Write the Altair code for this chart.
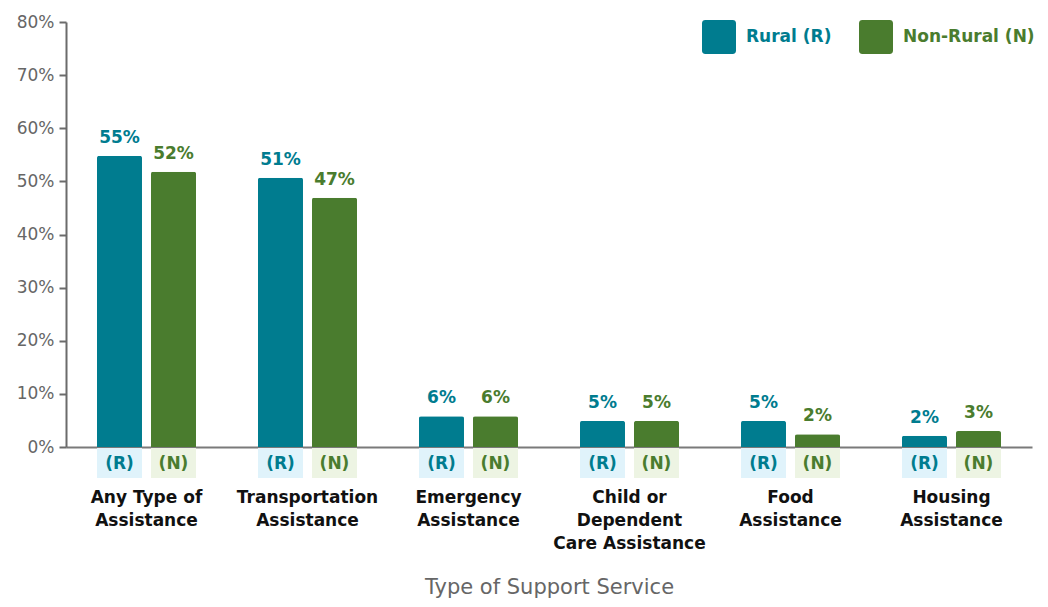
import altair as alt
import pandas as pd

categories = [
    "Any Type of|Assistance",
    "Transportation|Assistance",
    "Emergency|Assistance",
    "Child or|Dependent|Care Assistance",
    "Food|Assistance",
    "Housing|Assistance",
]
groups = ["Rural (R)", "Non-Rural (N)"]
short_tags = ["(R)", "(N)"]
rural = [54.8, 50.7, 5.8, 4.9, 4.9, 2.1]
non_rural = [51.8, 46.9, 5.8, 4.9, 2.4, 3.0]
y_ticks = [0, 10, 20, 30, 40, 50, 60, 70, 80]

TEAL = "#007C8F"
GREEN = "#4A7C2E"
TEAL_LIGHT = "#E0F3FB"
GREEN_LIGHT = "#EDF4E3"
FONT = "DejaVu Sans"

rows = []
for i, c in enumerate(categories):
    rows.append({"category": c, "group": groups[0], "tag": short_tags[0], "value": rural[i]})
    rows.append({"category": c, "group": groups[1], "tag": short_tags[1], "value": non_rural[i]})
df = pd.DataFrame(rows)

W, H = 966, 425

is_rural = alt.datum.group == groups[0]

x_enc = alt.X(
    "category:N",
    sort=categories,
    scale=alt.Scale(paddingInner=0.385, paddingOuter=0.1925),
    axis=alt.Axis(
        title="Type of Support Service",
        labelExpr="split(datum.label, '|')",
        labelAngle=0,
        labelAlign="center",
        labelFontSize=17,
        labelFontWeight="bold",
        labelColor="#111111",
        labelLineHeight=23,
        labelBaseline="top",
        labelPadding=42,
        labelOverlap=False,
        labelLimit=300,
        ticks=False,
        domainColor="#7a7a7a",
        domainWidth=2,
        titleFontSize=21,
        titleFontWeight="normal",
        titleColor="#666666",
        titleY=140,
        titleBaseline="middle",
    ),
)
x_off = alt.XOffset("group:N", sort=groups, scale=alt.Scale(paddingInner=1 / 6, paddingOuter=0))

y_enc = alt.Y(
    "value:Q",
    scale=alt.Scale(domain=[0, 80], nice=False),
    axis=alt.Axis(
        values=y_ticks,
        labelExpr="datum.value + '%'",
        title=None,
        grid=False,
        labelFontSize=17,
        labelColor="#666666",
        labelPadding=5,
        tickSize=7,
        tickWidth=2,
        tickColor="#6b6b6b",
        domainColor="#6b6b6b",
        domainWidth=2,
    ),
)

rounded_square = (
    "M-0.8,-1 H0.8 Q1,-1 1,-0.8 V0.8 Q1,1 0.8,1 H-0.8 Q-1,1 -1,0.8 V-0.8 Q-1,-1 -0.8,-1 Z"
)

base = alt.Chart(df)

bars = base.mark_bar(cornerRadiusTopLeft=2, cornerRadiusTopRight=2).encode(
    x=x_enc,
    xOffset=x_off,
    y=y_enc,
    color=alt.Color(
        "group:N",
        sort=groups,
        scale=alt.Scale(domain=groups, range=[TEAL, GREEN]),
        legend=alt.Legend(
            title=None,
            orient="none",
            legendX=636,
            legendY=-2,
            direction="horizontal",
            columns=2,
            symbolType=rounded_square,
            symbolSize=1156,
            symbolStrokeWidth=0,
            labelFontSize=17,
            labelFontWeight="bold",
            labelOffset=10,
            columnPadding=27,
            labelLimit=300,
            labelColor=alt.ExprRef(
                "datum.value === 'Rural (R)' ? '%s' : '%s'" % (TEAL, GREEN)
            ),
        ),
    ),
)

value_labels = base.transform_calculate(
    label="format(datum.value, '.0f') + '%'"
).mark_text(baseline="bottom", dy=-9, fontSize=17, fontWeight="bold").encode(
    x=alt.X("category:N", sort=categories),
    xOffset=x_off,
    y=alt.Y("value:Q"),
    text="label:N",
    color=alt.condition(is_rural, alt.value(TEAL), alt.value(GREEN)),
)

boxes = base.mark_bar().encode(
    x=alt.X("category:N", sort=categories),
    xOffset=x_off,
    y=alt.value(H + 1),
    y2=alt.value(H + 31),
    color=alt.condition(is_rural, alt.value(TEAL_LIGHT), alt.value(GREEN_LIGHT)),
)

box_text = base.mark_text(baseline="middle", fontSize=17, fontWeight="bold").encode(
    x=alt.X("category:N", sort=categories),
    xOffset=x_off,
    y=alt.value(H + 17),
    text="tag:N",
    color=alt.condition(is_rural, alt.value(TEAL), alt.value(GREEN)),
)

chart = (
    alt.layer(boxes, bars, value_labels, box_text)
    .properties(
        width=W,
        height=H,
        autosize=alt.AutoSizeParams(type="none"),
        padding={"left": 58, "top": 14, "right": 8, "bottom": 152},
    )
    .configure(font=FONT)
    .configure_view(stroke=None)
)

chart.save("out.html", embed_options={"renderer": "svg", "actions": False})
